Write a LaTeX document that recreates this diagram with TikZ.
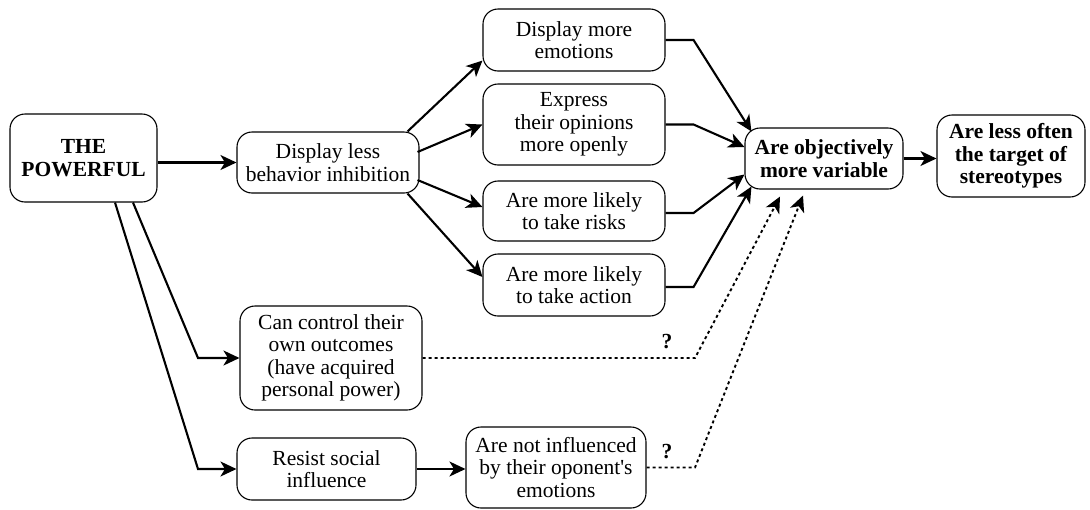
\documentclass[tikz,border=0pt]{standalone}
\usepackage{fontspec}
\setmainfont{Liberation Serif}
\usetikzlibrary{arrows.meta,calc}
\begin{document}
\begin{tikzpicture}[x=1pt,y=-1pt,
  box/.style={draw, line width=1.1pt, rounded corners=15pt, align=center,
    inner sep=0pt, font=\fontsize{21.5}{22.5}\selectfont},
  arr/.style={line width=2.1pt, -{Stealth[length=16pt,width=15pt,inset=4.5pt]}},
  dotarr/.style={line width=1.9pt, dash pattern=on 3pt off 3pt,
    -{Stealth[length=16pt,width=15pt,inset=4.5pt]}},
  qmark/.style={font=\fontsize{21.5}{22.5}\selectfont\bfseries, inner sep=0pt}]
\useasboundingbox[fill=white] (0,0) rectangle (1090,509);

% boxes
\node[box, minimum width=147pt, minimum height=88pt] (pow) at (83.5,158) {\textbf{THE}\\\textbf{POWERFUL}};
\node[box, minimum width=182pt, minimum height=61pt] (dl) at (328,162.5) {Display less\\behavior inhibition};
\node[box, minimum width=182pt, minimum height=62pt] (e1) at (574,40) {Display more\\emotions};
\node[box, minimum width=182pt, minimum height=81pt] (e2) at (574,124.5) {Express\\their opinions\\more openly};
\node[box, minimum width=182pt, minimum height=60pt] (e3) at (574,211) {Are more likely\\to take risks};
\node[box, minimum width=182pt, minimum height=62pt] (e4) at (574,285) {Are more likely\\to take action};
\node[box, minimum width=158pt, minimum height=61pt] (var) at (824,158.5) {\textbf{Are objectively}\\\textbf{more variable}};
\node[box, minimum width=148pt, minimum height=82pt] (less) at (1011,156) {\textbf{Are less often}\\\textbf{the target of}\\\textbf{stereotypes}};
\node[box, minimum width=182pt, minimum height=104pt] (cc) at (331,358) {Can control their\\own outcomes\\(have acquired\\personal power)};
\node[box, minimum width=179pt, minimum height=62pt] (rs) at (326.5,469) {Resist social\\influence};
\node[box, minimum width=180pt, minimum height=81pt] (ni) at (556,467.5) {Are not influenced\\by their oponent\textquotesingle s\\emotions};

% turning points and line ends
\coordinate (p1) at (198,358);
\coordinate (p2) at (198,469);
\coordinate (d1) at (695,358);
\coordinate (d2) at (695,467.5);

% main path
\draw[arr] (pow.east |- dl.west) -- (dl.west);
\draw[arr] ([xshift=-12pt]dl.north east) -- ([shift={(0,-11)}]e1.south west);
\draw[arr] ([shift={(-2,-10.5)}]dl.east) -- (e2.west);
\draw[arr] ([shift={(-2,17.5)}]dl.east) -- ([shift={(0,-4)}]e3.west);
\draw[arr] ([xshift=-12pt]dl.south east) -- ([shift={(0,-8)}]e4.west);

\draw[arr] (e1.east) -- ++(28,0) -- ([shift={(7,4)}]var.north west);
\draw[arr] (e2.east) -- ++(28,0) -- ([shift={(0,-11.5)}]var.west);
\draw[arr] ([yshift=-2pt]e3.east) -- ++(28,0) -- ([shift={(0,16)}]var.west);
\draw[arr] ([yshift=-2pt]e4.east) -- ++(28,0) -- ([shift={(7,-3)}]var.south west);
\draw[arr] (var.east) -- (var.east -| less.west);

% lower branches
\draw[arr] ([xshift=49.5pt]pow.south) -- (p1) -- (cc.west);
\draw[arr] ([xshift=31.5pt]pow.south) -- (p2) -- (rs.west);
\draw[arr] (rs.east) -- (rs.east -| ni.west);

% uncertain links
\draw[dotarr] (cc.east) -- (d1) -- ([shift={(-44,7)}]var.south);
\draw[dotarr] (ni.east) -- (d2) -- ([shift={(-21,6)}]var.south);
\node[qmark] (q1) at (667,342) {?};
\node[qmark] (q2) at (667,452) {?};
\end{tikzpicture}
\end{document}
